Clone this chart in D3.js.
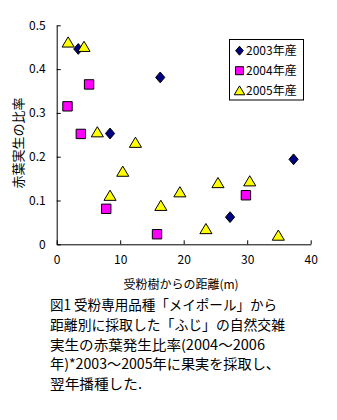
<!DOCTYPE html>
<html><head><meta charset="utf-8">
<script src="https://cdn.jsdelivr.net/npm/d3@7"></script>
<style>body{margin:0;background:#fff;}svg{display:block;}</style>
</head><body>
<script>
const seriesNames = ["2003年産", "2004年産", "2005年産"];
const data2003 = [[3.4,0.446],[8.4,0.253],[16.3,0.381],[27.3,0.062],[37.3,0.194]];
const data2004 = [[1.7,0.315],[3.8,0.252],[5.1,0.365],[7.8,0.081],[15.8,0.023],[29.8,0.112]];
const data2005 = [[1.8,0.461],[4.3,0.451],[6.4,0.256],[8.4,0.111],[10.4,0.166],[12.4,0.232],[16.4,0.088],[19.4,0.119],[23.5,0.035],[25.4,0.14],[30.4,0.144],[34.9,0.02]];
const xTicks = [0,10,20,30,40];
const yTicks = [0,0.1,0.2,0.3,0.4,0.5];
const xTitle = "受粉樹からの距離(m)";
const yTitle = "赤葉実生の比率";
const caption = ["図1 受粉専用品種「メイポール」から","距離別に採取した「ふじ」の自然交雑","実生の赤葉発生比率(2004～2006","年)*2003～2005年に果実を採取し、","翌年播種した."];
const captionWidths = [227,235,215,230,92];

const W=337,H=420;
const font = "'Noto Sans CJK JP', sans-serif";
const svg = d3.select("body").append("svg").attr("width",W).attr("height",H).style("font-family",font);
const x = d3.scaleLinear().domain([0,40]).range([56.7,310.7]);
const y = d3.scaleLinear().domain([0,0.5]).range([244.3,25.3]);

// axes
const xa = svg.append("g").attr("transform",`translate(0,${y(0)})`)
  .call(d3.axisBottom(x).tickValues(xTicks).tickSizeInner(-4).tickSizeOuter(0).tickPadding(11).tickFormat(d3.format("d")));
const ya = svg.append("g").attr("transform",`translate(${x(0)},0)`)
  .call(d3.axisLeft(y).tickValues(yTicks).tickSizeInner(-4).tickSizeOuter(0).tickPadding(11).tickFormat(d=>d===0?"0":d3.format(".1f")(d)));
[xa,ya].forEach(g=>{g.selectAll("path,line").attr("stroke","#000").attr("stroke-width",1);
  g.selectAll("text").attr("fill","#000").style("font-family",font).style("font-size","12px");});
xa.selectAll("text").attr("dy","0.71em");

svg.append("text").attr("x",181).attr("y",289).attr("text-anchor","middle").style("font-size","12px").text(xTitle);
svg.append("text").attr("transform","translate(23,143) rotate(-90)").attr("text-anchor","middle").style("font-size","13px").text(yTitle);

const diamond = s=>`M0,${-s}L${s*0.85},0L0,${s}L${-s*0.85},0Z`;
const square = s=>`M${-s},${-s}H${s}V${s}H${-s}Z`;
const tri = s=>`M0,${-s}L${s*1.1},${s*0.85}L${-s*1.1},${s*0.85}Z`;
const styles = [
  {d:data2003, p:diamond, size:5.4, legSize:4.5, fill:"#000080"},
  {d:data2004, p:square, size:4.7, legSize:4, fill:"#FF00FF"},
  {d:data2005, p:tri, size:5.5, legSize:4.8, fill:"#FFFF00"}
];
styles.forEach(st=>{
  svg.append("g").selectAll("path").data(st.d).join("path")
    .attr("transform",d=>`translate(${x(d[0])},${y(d[1])})`)
    .attr("d",st.p(st.size)).attr("fill",st.fill).attr("stroke","#000").attr("stroke-width",1);
});

// legend
const lg = svg.append("g");
lg.append("rect").attr("x",229.5).attr("y",39.5).attr("width",74).attr("height",60.5).attr("fill","#fff").attr("stroke","#000");
styles.forEach((st,i)=>{
  const cy = 50.7 + i*20;
  lg.append("path").attr("transform",`translate(239.5,${cy})`).attr("d",st.p(st.legSize)).attr("fill",st.fill).attr("stroke","#000");
  lg.append("text").attr("x",246).attr("y",cy).attr("dy","0.36em").style("font-size","12px").text(seriesNames[i]);
});

// caption
caption.forEach((t,i)=>{
  svg.append("text").attr("x",50).attr("y",305+i*19.8).attr("dy","0.36em").style("font-size","14px")
    .attr("textLength",captionWidths[i]).attr("lengthAdjust","spacingAndGlyphs").text(t);
});
</script>
</body></html>
